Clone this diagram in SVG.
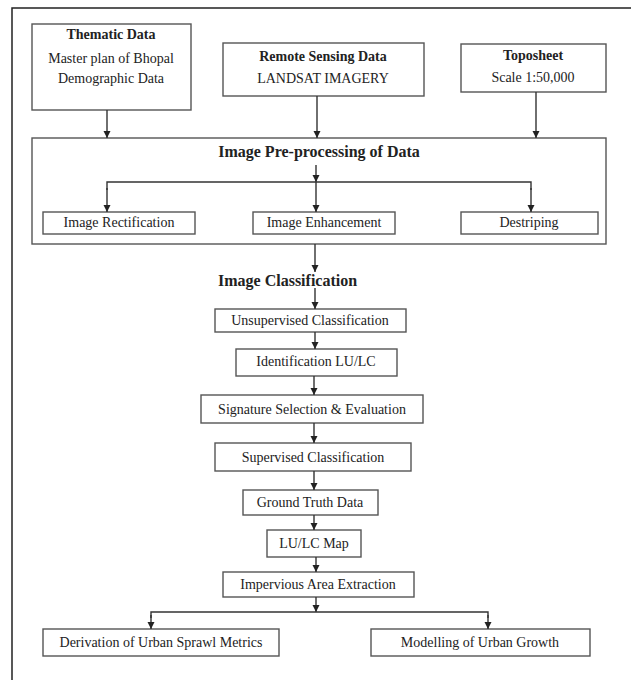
<svg xmlns="http://www.w3.org/2000/svg" width="631" height="680" viewBox="0 0 631 680">
<style>
.box{fill:#fff;stroke:#555;stroke-width:1.4}
.ln{fill:none;stroke:#333;stroke-width:1.4}
.t{font-family:"Liberation Serif","Times New Roman",serif;font-size:14px;fill:#222;text-anchor:middle}
.b{font-weight:bold}
.h{font-family:"Liberation Serif","Times New Roman",serif;font-size:16px;font-weight:bold;fill:#222}
</style>
<defs>
<marker id="ah" markerWidth="8" markerHeight="8" refX="7" refY="4" orient="auto" markerUnits="userSpaceOnUse">
<path d="M0,0.5 L7,4 L0,7.5 Z" fill="#222"/>
</marker>
</defs>
<rect width="631" height="680" fill="#fff"/>
<g id="frame"><path d="M12,680 V8 H631" fill="none" stroke="#222" stroke-width="1.5"/></g>

<g id="thematic">
<rect class="box" x="32" y="24" width="159" height="86"/>
<text class="t b" x="111" y="39">Thematic Data</text>
<text class="t" x="111" y="63">Master plan of Bhopal</text>
<text class="t" x="111" y="83">Demographic Data</text>
</g>
<g id="remote">
<rect class="box" x="223" y="43" width="201" height="53"/>
<text class="t b" x="323" y="61">Remote Sensing Data</text>
<text class="t" x="323" y="83">LANDSAT IMAGERY</text>
</g>
<g id="toposheet">
<rect class="box" x="461" y="44" width="145" height="48"/>
<text class="t b" x="533" y="60">Toposheet</text>
<text class="t" x="533" y="82">Scale 1:50,000</text>
</g>

<g id="preprocessing">
<rect class="box" x="32" y="138" width="574" height="106"/>
<text class="h" x="319" y="157" text-anchor="middle">Image Pre-processing of Data</text>
</g>
<g id="rectification">
<rect class="box" x="43" y="212" width="152" height="22"/>
<text class="t" x="119" y="227">Image Rectification</text>
</g>
<g id="enhancement">
<rect class="box" x="253" y="212" width="142" height="22"/>
<text class="t" x="324" y="227">Image Enhancement</text>
</g>
<g id="destriping">
<rect class="box" x="461" y="212" width="137" height="22"/>
<text class="t" x="529" y="227">Destriping</text>
</g>

<g id="classification">
<text class="h" x="218" y="286">Image Classification</text>
</g>
<g id="unsupervised">
<rect class="box" x="215" y="309" width="191" height="23"/>
<text class="t" x="310" y="325">Unsupervised Classification</text>
</g>
<g id="identification">
<rect class="box" x="236" y="349" width="161" height="27"/>
<text class="t" x="316" y="366">Identification LU/LC</text>
</g>
<g id="signature">
<rect class="box" x="201" y="395" width="222" height="28"/>
<text class="t" x="312" y="414">Signature Selection &amp; Evaluation</text>
</g>
<g id="supervised">
<rect class="box" x="215" y="443" width="196" height="28"/>
<text class="t" x="313" y="462">Supervised Classification</text>
</g>
<g id="groundtruth">
<rect class="box" x="243" y="490" width="135" height="25"/>
<text class="t" x="310" y="507">Ground Truth Data</text>
</g>
<g id="lulcmap">
<rect class="box" x="267" y="530" width="94" height="27"/>
<text class="t" x="314" y="548">LU/LC Map</text>
</g>
<g id="impervious">
<rect class="box" x="223" y="572" width="191" height="25"/>
<text class="t" x="318" y="589">Impervious Area Extraction</text>
</g>
<g id="derivation">
<rect class="box" x="43" y="629" width="236" height="27"/>
<text class="t" x="161" y="647">Derivation of Urban Sprawl Metrics</text>
</g>
<g id="modelling">
<rect class="box" x="371" y="629" width="219" height="27"/>
<text class="t" x="480" y="647">Modelling of Urban Growth</text>
</g>

<g id="connectors">
<line class="ln" x1="107" y1="110" x2="107" y2="138" marker-end="url(#ah)"/>
<line class="ln" x1="317" y1="96" x2="317" y2="138" marker-end="url(#ah)"/>
<line class="ln" x1="536" y1="92" x2="536" y2="138" marker-end="url(#ah)"/>
<line class="ln" x1="316" y1="165" x2="316" y2="182" marker-end="url(#ah)"/>
<path class="ln" d="M107,190 V182 H531 V190"/>
<line class="ln" x1="107" y1="188" x2="107" y2="212" marker-end="url(#ah)"/>
<line class="ln" x1="531" y1="188" x2="531" y2="212" marker-end="url(#ah)"/>
<line class="ln" x1="316" y1="182" x2="316" y2="212" marker-end="url(#ah)"/>
<line class="ln" x1="315" y1="244" x2="315" y2="272" marker-end="url(#ah)"/>
<line class="ln" x1="315" y1="288" x2="315" y2="309" marker-end="url(#ah)"/>
<line class="ln" x1="315" y1="332" x2="315" y2="349" marker-end="url(#ah)"/>
<line class="ln" x1="314" y1="376" x2="314" y2="395" marker-end="url(#ah)"/>
<line class="ln" x1="314" y1="423" x2="314" y2="443" marker-end="url(#ah)"/>
<line class="ln" x1="314" y1="471" x2="314" y2="490" marker-end="url(#ah)"/>
<line class="ln" x1="314" y1="515" x2="314" y2="530" marker-end="url(#ah)"/>
<line class="ln" x1="316" y1="557" x2="316" y2="572" marker-end="url(#ah)"/>
<line class="ln" x1="316" y1="597" x2="316" y2="612" marker-end="url(#ah)"/>
<path class="ln" d="M151,618 V612 H488 V618"/>
<line class="ln" x1="151" y1="615" x2="151" y2="629" marker-end="url(#ah)"/>
<line class="ln" x1="488" y1="615" x2="488" y2="629" marker-end="url(#ah)"/>
</g>
</svg>
